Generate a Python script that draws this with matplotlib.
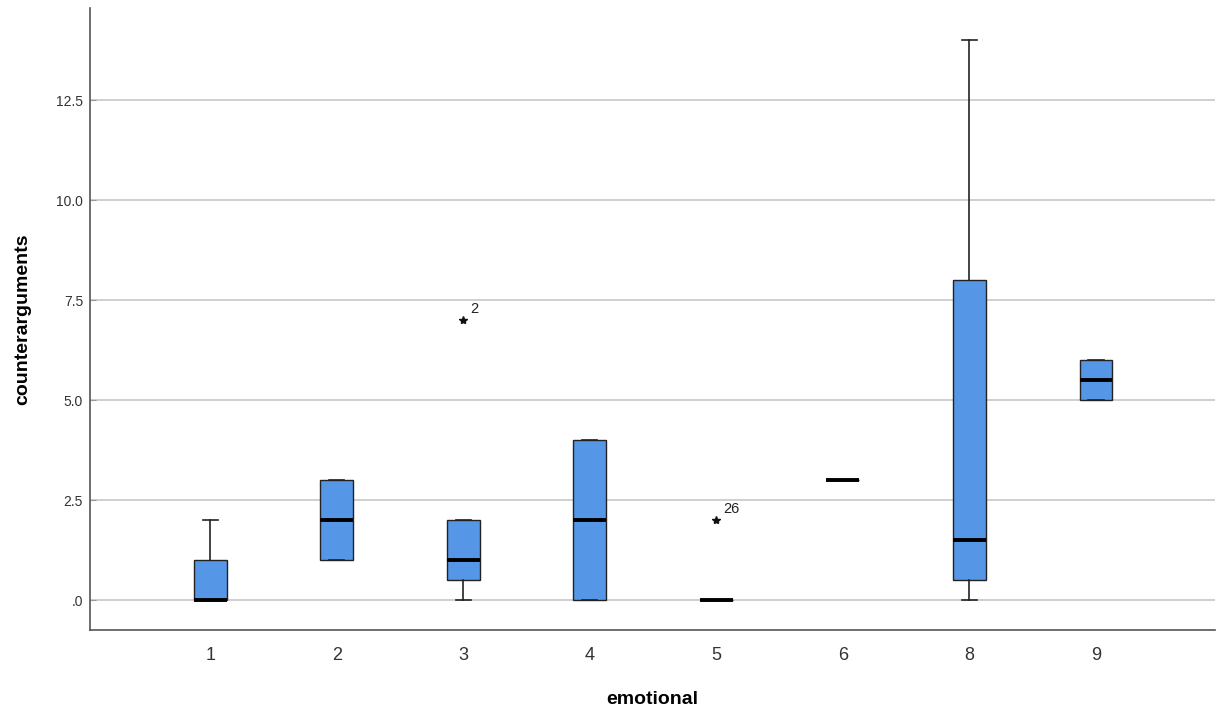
import matplotlib.pyplot as plt
from matplotlib.ticker import FixedLocator, FixedFormatter

plt.rcParams['font.family'] = ['Liberation Sans', 'DejaVu Sans']

# box statistics per emotional group
groups = ['1', '2', '3', '4', '5', '6', '8', '9']
whislo = [0, 1, 0, 0, 0, 3, 0, 5]
q1 = [0, 1, 0.5, 0, 0, 3, 0.5, 5]
med = [0, 2, 1, 2, 0, 3, 1.5, 5.5]
q3 = [1, 3, 2, 4, 0, 3, 8, 6]
whishi = [2, 3, 2, 4, 0, 3, 14, 6]

# extreme values (stars) with case labels
outlier_group = ['3', '5']
outlier_value = [7, 2]
outlier_case = ['2', '26']

yticks = [0, 2.5, 5.0, 7.5, 10.0, 12.5]
ytick_labels = ['.0', '2.5', '5.0', '7.5', '10.0', '12.5']

box_color = '#5596e6'

fig = plt.figure(figsize=(12.19, 7.17), dpi=100)
ax = fig.add_axes([0.0738, 0.1213, 0.9229, 0.8675])

stats = []
for i, g in enumerate(groups):
    stats.append({'whislo': whislo[i], 'q1': q1[i], 'med': med[i],
                  'q3': q3[i], 'whishi': whishi[i], 'fliers': [], 'label': g})

pos = list(range(len(groups)))
ax.bxp(stats, positions=pos, widths=0.26, patch_artist=True, showfliers=False,
       boxprops=dict(facecolor=box_color, edgecolor='#222222', linewidth=1.0),
       medianprops=dict(color='black', linewidth=2.8, solid_capstyle='butt'),
       whiskerprops=dict(color='#222222', linewidth=1.2),
       capprops=dict(color='#222222', linewidth=1.2), capwidths=0.12,
       zorder=3)

for g, v, c in zip(outlier_group, outlier_value, outlier_case):
    x = groups.index(g)
    ax.plot(x, v, marker='*', color='#111111', markersize=6, linestyle='none', zorder=4)
    ax.annotate(c, (x, v), xytext=(5, 5), textcoords='offset points',
                fontsize=10.5, color='#222222')

ax.set_xlim(-0.95, 7.94)
ax.set_ylim(-0.75, 14.8)
ax.yaxis.set_major_locator(FixedLocator(yticks))
ax.yaxis.set_major_formatter(FixedFormatter(ytick_labels))
ax.set_xticks(pos)
ax.set_xticklabels(groups)
ax.tick_params(axis='x', length=0, labelsize=13, pad=12, colors='#333333')
ax.tick_params(axis='y', length=4, direction='in', labelsize=10, pad=5,
               colors='#333333', color='#999999')
ax.grid(axis='y', color='#cccccc', linewidth=1.3, zorder=0)
ax.set_axisbelow(True)

for s in ['top', 'right']:
    ax.spines[s].set_visible(False)
for s in ['left', 'bottom']:
    ax.spines[s].set_color('#555555')
    ax.spines[s].set_linewidth(1.2)

ax.set_xlabel('emotional', fontsize=14, fontweight='bold', labelpad=20)
ax.set_ylabel('counterarguments', fontsize=14, fontweight='bold', labelpad=18)

fig.savefig('out.png', dpi=100)
